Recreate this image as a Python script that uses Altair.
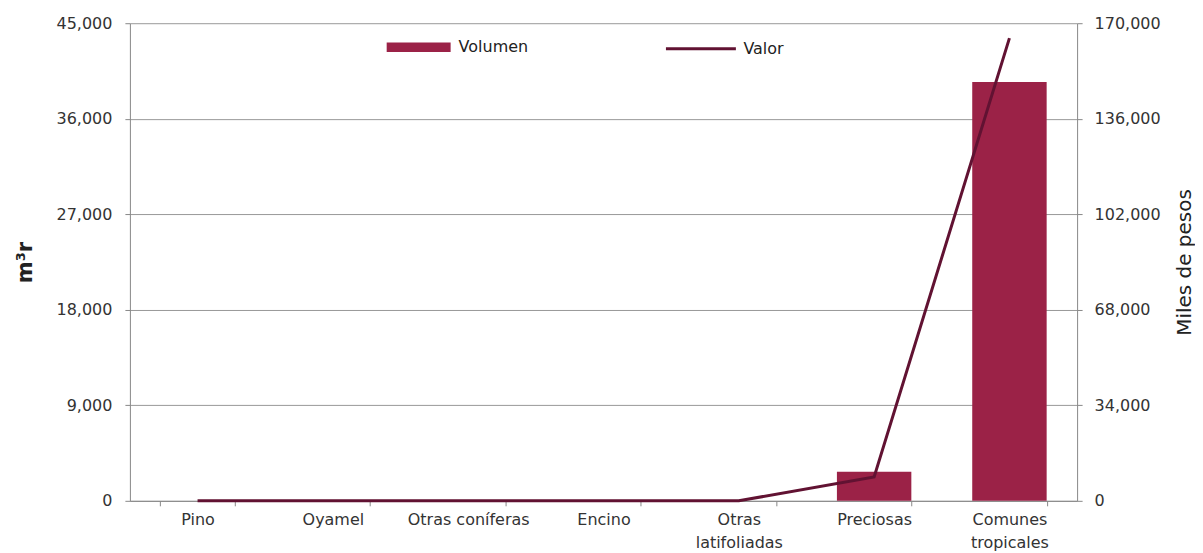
import altair as alt
import pandas as pd

categorias = ["Pino", "Oyamel", "Otras coníferas", "Encino", "Otras latifoliadas", "Preciosas", "Comunes tropicales"]
volumen = [0, 0, 0, 0, 0, 2750, 39450]
valor = [0, 0, 0, 0, 0, 8500, 164700]
ticks_izq = [0, 9000, 18000, 27000, 36000, 45000]
ticks_der = [0, 34000, 68000, 102000, 136000, 170000]

df = pd.DataFrame({
    "categoria": categorias,
    "volumen": volumen,
    "valor": valor,
    "serie_v": ["Volumen"] * len(categorias),
    "serie_p": ["Valor"] * len(categorias),
})

FONT = "DejaVu Sans"
BAR = "#9B2247"
LINE = "#611232"
TXT = "#333333"

x = alt.X(
    "categoria:N",
    sort=categorias,
    scale=alt.Scale(paddingInner=0.45, paddingOuter=0.225),
    axis=alt.Axis(
        title=None, labelAngle=0, labelFontSize=16, labelColor=TXT,
        labelExpr="datum.label == 'Otras latifoliadas' ? ['Otras', 'latifoliadas'] : datum.label == 'Comunes tropicales' ? ['Comunes', 'tropicales'] : datum.label",
        labelPadding=6, tickBand="extent", tickSize=5, tickColor="#888888",
        domainColor="#888888", labelLineHeight=23,
    ),
)

bars = alt.Chart(df).mark_bar(color=BAR).encode(
    x=x,
    y=alt.Y(
        "volumen:Q",
        scale=alt.Scale(domain=[0, 45000], nice=False),
        axis=alt.Axis(
            title="m³r", values=ticks_izq, format=",.0f", labelFontSize=16,
            labelColor=TXT, titleFontSize=21, titleFontWeight="bold",
            titleColor="#222222", titlePadding=20, labelPadding=13, tickSize=5,
            tickColor="#888888", domainColor="#888888", grid=True,
            gridColor="#999999",
        ),
    ),
    fill=alt.Fill(
        "serie_v:N",
        scale=alt.Scale(domain=["Volumen"], range=[BAR]),
        legend=alt.Legend(
            title=None, orient="none", legendX=257, legendY=-8,
            symbolType="M-1,-0.15H1V0.15H-1Z", symbolSize=4096,
            symbolStrokeWidth=0, labelFontSize=16, labelColor="#222222",
            labelOffset=8, labelFont=FONT,
        ),
    ),
)

line = alt.Chart(df).mark_line(strokeWidth=3).encode(
    x=x,
    y=alt.Y(
        "valor:Q",
        scale=alt.Scale(domain=[0, 170000], nice=False),
        axis=alt.Axis(
            title="Miles de pesos", orient="right", values=ticks_der, format=",.0f",
            labelFontSize=16, labelColor=TXT, titleFontSize=20, titleAngle=270,
            titleBaseline="top",
            titleFontWeight="normal", titleColor="#222222", titlePadding=14,
            labelPadding=12, tickSize=5, tickColor="#888888",
            domainColor="#888888", grid=False,
        ),
    ),
    stroke=alt.Stroke(
        "serie_p:N",
        scale=alt.Scale(domain=["Valor"], range=[LINE]),
        legend=alt.Legend(
            title=None, orient="none", legendX=535, legendY=-11,
            symbolType="stroke", symbolSize=4900, symbolStrokeWidth=3,
            labelFontSize=16, labelColor="#222222", labelOffset=6,
            labelFont=FONT,
        ),
    ),
)

chart = (
    alt.layer(bars, line)
    .resolve_scale(y="independent", fill="independent", stroke="independent")
    .properties(width=948, height=478, padding={"left": 7, "top": 4, "right": 0, "bottom": 0})
    .configure(font=FONT)
    .configure_view(stroke=None)
)

chart.save("out.html", embed_options={"renderer": "svg", "actions": False})
